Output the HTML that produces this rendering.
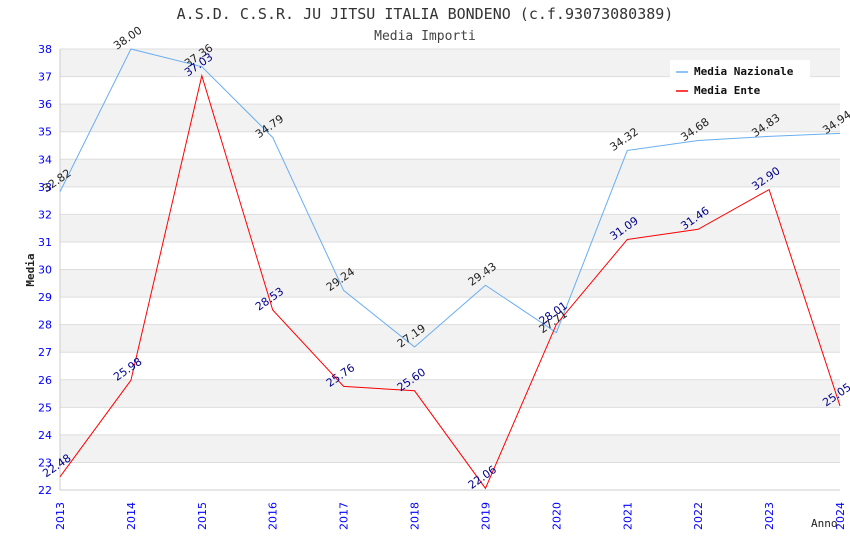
<!DOCTYPE html>
<html><head><meta charset="utf-8"><style>
body{margin:0;background:#fff;}
svg{display:block;font-family:"DejaVu Sans","Liberation Sans",sans-serif;}
</style></head><body>
<svg id="c" width="850" height="550">
<text x="425" y="19" text-anchor="middle" font-family="DejaVu Sans Mono, monospace" font-size="15" fill="#333">A.S.D. C.S.R. JU JITSU ITALIA BONDENO (c.f.93073080389)</text>
<text x="425" y="40" text-anchor="middle" font-family="DejaVu Sans Mono, monospace" font-size="13" fill="#444">Media Importi</text>
<g id="grid"></g><g id="axes"></g><g id="lines"></g><g id="labels"></g>
<text transform="translate(34,270) rotate(-90)" text-anchor="middle" font-family="DejaVu Sans Mono, monospace" font-size="11" font-weight="bold" fill="#222">Media</text>
<text x="811" y="527" font-family="DejaVu Sans Mono, monospace" font-size="11" fill="#222">Anno</text>
<g>
<rect x="670" y="60" width="140" height="40" fill="#fff"/>
<line x1="676" y1="72" x2="688" y2="72" stroke="#6aaef0" stroke-width="1.5"/>
<text x="694" y="75" font-family="DejaVu Sans Mono, monospace" font-size="11" font-weight="bold" fill="#111">Media Nazionale</text>
<line x1="676" y1="91" x2="688" y2="91" stroke="#f00" stroke-width="1.5"/>
<text x="694" y="94" font-family="DejaVu Sans Mono, monospace" font-size="11" font-weight="bold" fill="#111">Media Ente</text>
</g>
</svg>
<script>
const years=["2013","2014","2015","2016","2017","2018","2019","2020","2021","2022","2023","2024"];
const nazionale=[32.82,38.00,37.36,34.79,29.24,27.19,29.43,27.71,34.32,34.68,34.83,34.94];
const ente=[22.48,25.98,37.03,28.53,25.76,25.60,22.06,28.01,31.09,31.46,32.90,25.05];
const yTicks=[22,23,24,25,26,27,28,29,30,31,32,33,34,35,36,37,38];
const NS="http://www.w3.org/2000/svg";
const X0=60,X1=840,Y0=490,Y1=49,VMIN=22,VMAX=38;
const xs=i=>X0+i*(X1-X0)/(years.length-1);
const ys=v=>Y0-(v-VMIN)*(Y0-Y1)/(VMAX-VMIN);
function mk(t,a,p){const e=document.createElementNS(NS,t);for(const k in a)e.setAttribute(k,a[k]);p.appendChild(e);return e;}
const grid=document.getElementById('grid'),axes=document.getElementById('axes'),lines=document.getElementById('lines'),labels=document.getElementById('labels');
for(let i=0;i<yTicks.length-1;i++){
  if(i%2===1){const r=mk('rect',{x:X0,y:ys(yTicks[i+1]),width:X1-X0,height:ys(yTicks[i])-ys(yTicks[i+1]),fill:'#f2f2f2'},grid);
  
  }
}
yTicks.forEach(v=>{
  const l=mk('line',{x1:X0,x2:X1,y1:ys(v),y2:ys(v),stroke:'#ddd'},grid);
  
  
  const t=mk('text',{x:52,y:ys(v)+4,'text-anchor':'end','font-size':11,fill:'#00f'},axes);
  t.textContent=v;
  
  
});
mk('line',{x1:X0,x2:X0,y1:Y1,y2:Y0,stroke:'#ccc'},axes);
mk('line',{x1:X0,x2:X1,y1:Y0,y2:Y0,stroke:'#ccc'},axes);
years.forEach((y,i)=>{
  const t=mk('text',{transform:`translate(${xs(i)+4},${Y0+40}) rotate(-90)`,'font-size':11,fill:'#00f'},axes);
  t.textContent=y;
  
  
});
function series(data,color,lcolor,name){
  const p=mk('polyline',{points:data.map((v,i)=>xs(i)+','+ys(v)).join(' '),fill:'none',stroke:color,'stroke-width':1},lines);
  
  
  data.forEach((v,i)=>{
    const t=mk('text',{transform:`translate(${xs(i)-14},${ys(v)+1}) rotate(-35)`,'font-size':11,fill:lcolor},labels);
    t.textContent=v.toFixed(2);
    
    
  });
}
series(nazionale,'#6aaef0','#222','nazionale');
series(ente,'#f00','#00008b','ente');
</script>
</body></html>
